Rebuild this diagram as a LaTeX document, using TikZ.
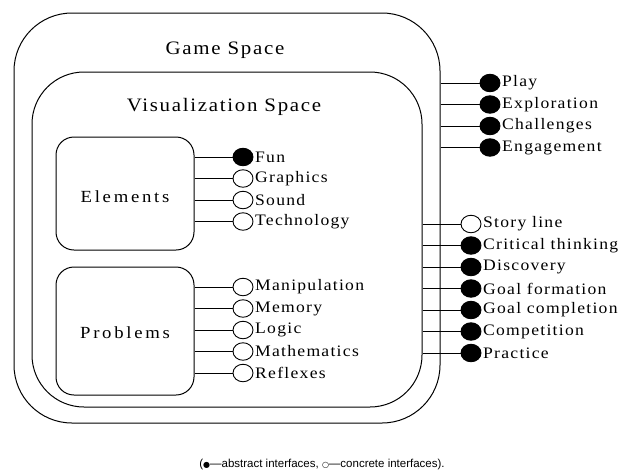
\documentclass[tikz,border=0pt]{standalone}
\usepackage{fontspec}
\setmainfont{Liberation Serif}
\newfontfamily\lblfont{Liberation Serif}[FakeStretch=1.1, LetterSpace=8]
\newfontfamily\boxfont{Liberation Serif}[FakeStretch=1.1, LetterSpace=16]
\newfontfamily\titlefont{Liberation Serif}[FakeStretch=1.1, LetterSpace=9]
\newfontfamily\capfont{Liberation Sans}
\newfontfamily\symfont{DejaVu Sans}
\usetikzlibrary{shapes.geometric}
\tikzset{
  frame/.style={draw, line width=1pt, inner sep=0pt},
  title/.style={font=\titlefont\fontsize{19}{22}\selectfont, inner sep=0pt},
  boxtext/.style={font=\boxfont\fontsize{17}{20}\selectfont, inner sep=0pt},
  port/.style={ellipse, draw, line width=0.9pt, minimum width=20pt, minimum height=17.5pt, inner sep=0pt},
  abstract/.style={port, fill=black},
  concrete/.style={port, fill=white},
  lbl/.style={font=\lblfont\fontsize{16}{18}\selectfont, anchor=west, inner sep=0pt, xshift=1.5pt},
  wire/.style={line width=0.9pt}
}
\begin{document}
\begin{tikzpicture}[x=1pt, y=-1pt]
\useasboundingbox (0,0) rectangle (623,474);

% nested spaces
\node[frame, rounded corners=58pt, minimum width=426pt, minimum height=410pt] (game) at (227,218) {};
\node[frame, rounded corners=52pt, minimum width=390pt, minimum height=335pt] (vis) at (227,239.5) {};
\node[title] (gametitle) at (225,50) {Game Space};
\node[title] (vistitle) at (224,107) {Visualization Space};

% element and problem boxes
\node[frame, rounded corners=18pt, minimum width=138pt, minimum height=113pt] (elem) at (125,193.5) {};
\node[boxtext] (elemtext) at (125,197) {Elements};
\node[frame, rounded corners=18pt, minimum width=138pt, minimum height=128pt] (prob) at (125,331) {};
\node[boxtext] (probtext) at (125,333) {Problems};

% interfaces of the elements
\node[abstract] (fun) at (243,157) {};
\node[concrete] (graphics) at (243,178.5) {};
\node[concrete] (sound) at (243,200) {};
\node[concrete] (tech) at (243,221.5) {};
\foreach \n/\t in {fun/Fun, graphics/Graphics, sound/Sound, tech/Technology}{
  \draw[wire] (elem.east |- \n) -- (\n.west);
  \node[lbl] (\n-l) at (\n.east) {\t};
}

% interfaces of the problems
\node[concrete] (manip) at (243,287) {};
\node[concrete] (memory) at (243,308.5) {};
\node[concrete] (logic) at (243,330) {};
\node[concrete] (math) at (243,351.5) {};
\node[concrete] (reflex) at (243,373) {};
\foreach \n/\t in {manip/Manipulation, memory/Memory, logic/Logic, math/Mathematics, reflex/Reflexes}{
  \draw[wire] (prob.east |- \n) -- (\n.west);
  \node[lbl] (\n-l) at (\n.east) {\t};
}

% interfaces of the game space
\node[abstract] (play) at (490,83) {};
\node[abstract] (explore) at (490,104.5) {};
\node[abstract] (challenge) at (490,126) {};
\node[abstract] (engage) at (490,147.5) {};
\foreach \n/\t in {play/Play, explore/Exploration, challenge/Challenges, engage/Engagement}{
  \draw[wire] (game.east |- \n) -- (\n.west);
  \node[lbl] (\n-l) at (\n.east) {\t};
}

% interfaces of the visualization space
\node[concrete] (story) at (471,224) {};
\node[abstract] (critical) at (471,245.5) {};
\node[abstract] (discovery) at (471,267) {};
\node[abstract] (goalform) at (471,288.5) {};
\node[abstract] (goalcomp) at (471,310) {};
\node[abstract] (compet) at (471,331.5) {};
\node[abstract] (practice) at (471,353) {};
\foreach \n/\t in {story/Story line, critical/Critical thinking, discovery/Discovery, goalform/Goal formation, goalcomp/Goal completion, compet/Competition, practice/Practice}{
  \draw[wire] (vis.east |- \n) -- (\n.west);
  \node[lbl] (\n-l) at (\n.east) {\t};
}

% legend
\node[font=\capfont\fontsize{11.5}{13}\selectfont, inner sep=0pt] (legend) at (322,465)
  {({\symfont\fontsize{8}{10}\selectfont ●}—abstract interfaces, {\symfont\fontsize{8}{10}\selectfont ○}—concrete interfaces).};
\end{tikzpicture}
\end{document}
